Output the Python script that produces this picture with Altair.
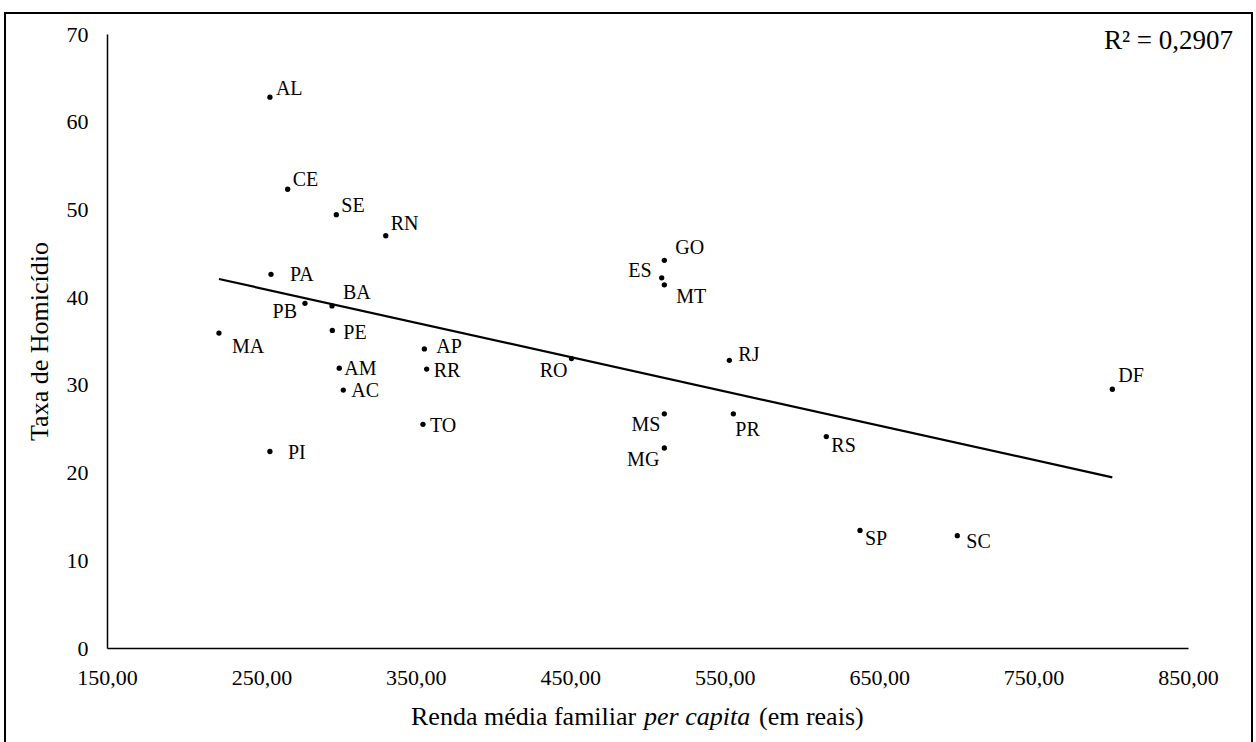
import altair as alt
import pandas as pd

# Brazilian states: mean per-capita family income (R$) vs homicide rate
states = ["AL", "CE", "SE", "RN", "PA", "PB", "BA", "MA", "PE", "AP", "AM", "RR", "AC", "TO",
          "PI", "RO", "GO", "ES", "MT", "RJ", "MS", "PR", "MG", "DF", "RS", "SP", "SC"]
renda = [255.5, 267.0, 298.5, 330.5, 256.2, 278.2, 295.7, 222.5, 295.9, 355.5, 300.4, 357.0, 303.0, 354.6,
         255.5, 450.8, 510.9, 509.2, 510.9, 553.0, 510.9, 555.6, 510.9, 801.0, 615.8, 637.6, 700.6]
taxa = [62.8, 52.3, 49.4, 47.0, 42.6, 39.3, 39.0, 35.9, 36.2, 34.1, 31.9, 31.8, 29.4, 25.5,
        22.4, 33.0, 44.2, 42.2, 41.4, 32.8, 26.7, 26.7, 22.8, 29.5, 24.1, 13.4, 12.8]

x_ticks = [150, 250, 350, 450, 550, 650, 750, 850]
y_ticks = [0, 10, 20, 30, 40, 50, 60, 70]

r2_text = "R² = 0,2907"
y_title = "Taxa de Homicídio"
x_title_parts = ["Renda média familiar", "per capita", "(em reais)"]

# label placement around each dot: (side of the dot, dx px, dy px)
label_place = {
    "AL": ("left", 6, -8), "CE": ("left", 5, -9), "SE": ("left", 5, -9), "RN": ("left", 5, -12),
    "PA": ("left", 19, 1), "PB": ("right", -8, 9), "BA": ("left", 11, -13), "MA": ("left", 13, 14),
    "PE": ("left", 11, 3), "AP": ("left", 12, -2), "AM": ("left", 5, 1), "RR": ("left", 7, 2),
    "AC": ("left", 8, 1), "TO": ("left", 7, 2), "PI": ("left", 18, 1), "RO": ("right", -4, 12),
    "GO": ("left", 11, -12), "ES": ("right", -10, -7), "MT": ("left", 12, 12), "RJ": ("left", 9, -5),
    "MS": ("right", -4, 11), "PR": ("left", 2, 16), "MG": ("right", -5, 12), "DF": ("left", 6, -13),
    "RS": ("left", 5, 9), "SP": ("left", 5, 9), "SC": ("left", 9, 6),
}

X_DOMAIN = [150, 850]
Y_DOMAIN = [0, 70]
FONT = "Liberation Serif"
W, H = 1081, 614
PAD_L, PAD_T = 107, 34

df = pd.DataFrame({"uf": states, "renda": renda, "taxa": taxa})
df["side"] = [label_place[s][0] for s in states]
df["dx"] = [label_place[s][1] for s in states]
df["dy"] = [label_place[s][2] for s in states]

x_enc = alt.X("renda:Q",
              scale=alt.Scale(domain=X_DOMAIN, nice=False, zero=False),
              axis=alt.Axis(values=x_ticks, title=None, grid=False, ticks=False, tickSize=0,
                            labelFlush=False, labelPadding=19, labelFontSize=22, labelFont=FONT,
                            labelColor="black", domainColor="black", domainWidth=1.5,
                            labelExpr="replace(format(datum.value, '.2f'), '.', ',')"))
y_enc = alt.Y("taxa:Q",
              scale=alt.Scale(domain=Y_DOMAIN, nice=False),
              axis=alt.Axis(values=y_ticks, title=y_title, grid=False, ticks=False, tickSize=0,
                            labelFlush=False, labelPadding=19, labelFontSize=22, labelFont=FONT,
                            labelColor="black", domainColor="black", domainWidth=1.5,
                            titleFont=FONT, titleFontSize=26, titleFontWeight="normal",
                            titleColor="black", titlePadding=14))

base = alt.Chart(df)

points = base.mark_circle(color="black", opacity=1, size=28).encode(x=x_enc, y=y_enc)

trend = base.transform_regression("renda", "taxa").mark_line(
    color="black", strokeWidth=2.2).encode(x="renda:Q", y="taxa:Q")

# pixel nudges of the labels turned into data units of each axis
ux = (X_DOMAIN[1] - X_DOMAIN[0]) / W
uy = (Y_DOMAIN[1] - Y_DOMAIN[0]) / H


def label_layer(side):
    return base.transform_filter(alt.datum.side == side).transform_calculate(
        lx=f"datum.renda + datum.dx * {ux}",
        ly=f"datum.taxa - datum.dy * {uy}",
    ).mark_text(
        align=side, baseline="middle", font=FONT, fontSize=20, color="black"
    ).encode(x="lx:Q", y="ly:Q", text="uf:N")


one = alt.Chart(pd.DataFrame({"k": [0]}))

r2 = one.mark_text(align="right", baseline="middle", font=FONT, fontSize=27, color="black").encode(
    x=alt.value(1126), y=alt.value(7), text=alt.value(r2_text))

xt1 = one.mark_text(align="left", baseline="middle", font=FONT, fontSize=26, color="black").encode(
    x=alt.value(304), y=alt.value(683), text=alt.value(x_title_parts[0]))
xt2 = one.mark_text(align="left", baseline="middle", font=FONT, fontSize=26, fontStyle="italic",
                    color="black").encode(
    x=alt.value(537), y=alt.value(683), text=alt.value(x_title_parts[1]))
xt3 = one.mark_text(align="left", baseline="middle", font=FONT, fontSize=26, color="black").encode(
    x=alt.value(652), y=alt.value(683), text=alt.value(x_title_parts[2]))

frame = one.mark_rect(fill="transparent", stroke="black", strokeWidth=2).encode(
    x=alt.value(-102), x2=alt.value(1145), y=alt.value(-21), y2=alt.value(800))

chart = alt.layer(
    frame, trend, points, label_layer("left"), label_layer("right"), r2, xt1, xt2, xt3
).properties(
    width=W, height=H,
    autosize=alt.AutoSizeParams(type="none"),
    padding={"left": PAD_L, "top": PAD_T, "right": 1256 - PAD_L - W, "bottom": 742 - PAD_T - H},
    background="white",
).configure_view(strokeWidth=0)

chart.save("out.html", embed_options={"renderer": "svg", "actions": False})
